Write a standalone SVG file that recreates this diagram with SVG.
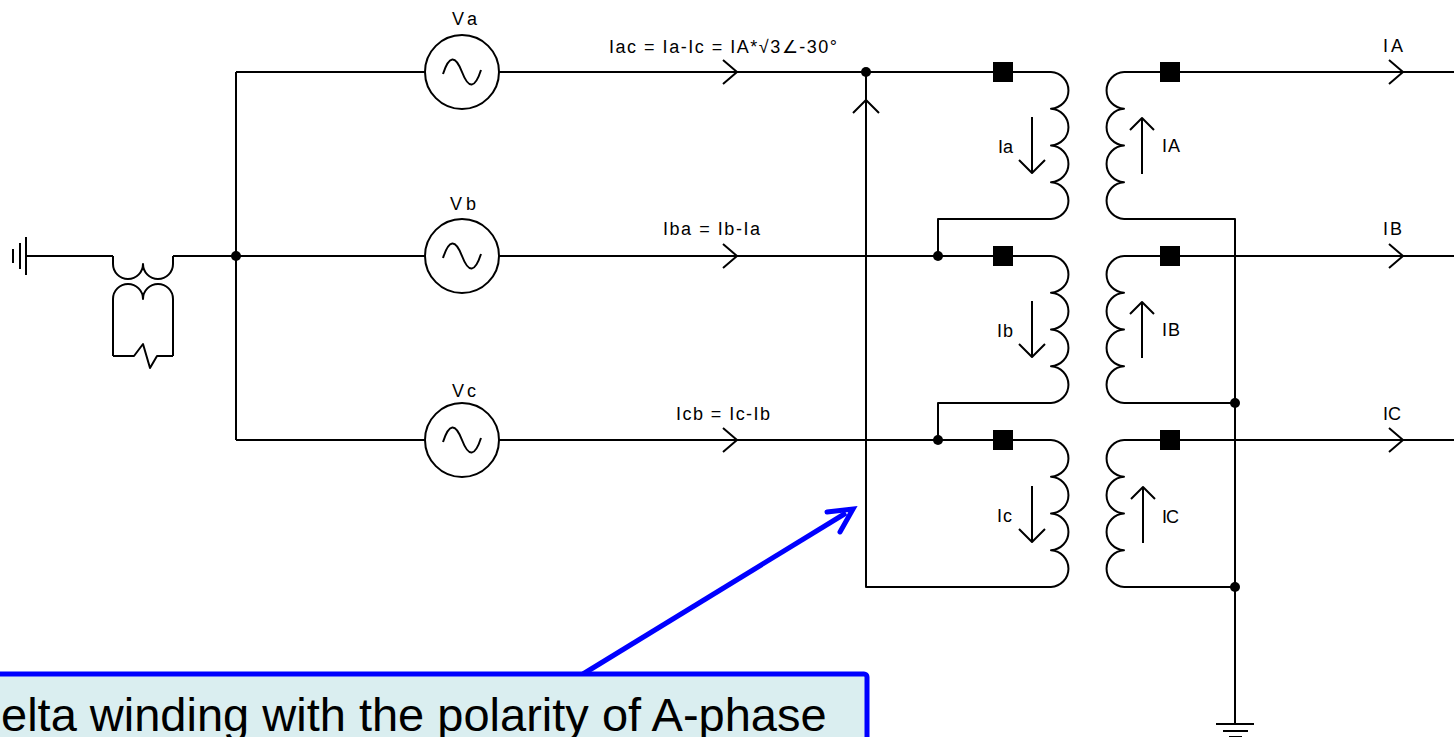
<svg xmlns="http://www.w3.org/2000/svg" width="1454" height="737" viewBox="0 0 1454 737">
<style>
.w{fill:none;stroke:#000;stroke-width:2;stroke-linejoin:round;stroke-linecap:butt}
.dot{fill:#000}
.sq{fill:#000}
.t{font-family:"Liberation Sans",Arial,sans-serif;font-size:18px;fill:#000}
.src{fill:#fff;stroke:#000;stroke-width:2}
</style>
<defs>
<marker id="blueHead" markerWidth="8" markerHeight="8" refX="6" refY="4" orient="auto" markerUnits="userSpaceOnUse" viewBox="0 0 8 8" overflow="visible">
<path d="M-22,-9 L6,4 L-14,18" fill="none" stroke="#0000FF" stroke-width="5" stroke-linecap="round" stroke-linejoin="miter" transform="scale(1)"/>
</marker>
</defs>
<rect width="1454" height="737" fill="#fff"/>

<g id="connectors" class="w">
<!-- left side -->
<path d="M26,256 H113"/>
<path d="M173,256 H236"/>
<path d="M236,72 V440"/>
<path d="M236,72 H425 M236,256 H425 M236,440 H425"/>
<!-- source to transformer -->
<path d="M499,72 H1051"/>
<path d="M499,256 H1051"/>
<path d="M499,440 H1051"/>
<!-- delta connections -->
<path d="M866,72 V587 H1051"/>
<path d="M1051,219 H938 V256"/>
<path d="M1051,403 H938 V440"/>
<!-- secondary -->
<path d="M1124,72 H1454 M1124,256 H1454 M1124,440 H1454"/>
<path d="M1124,219 H1235 V724"/>
<path d="M1124,403 H1235 M1124,587 H1235"/>
<!-- chevrons -->
<path d="M723,60 L737,72 L723,84"/>
<path d="M723,244 L737,256 L723,268"/>
<path d="M723,428 L737,440 L723,452"/>
<path d="M1389,60 L1403,72 L1389,84"/>
<path d="M1389,244 L1403,256 L1389,268"/>
<path d="M1389,428 L1403,440 L1389,452"/>
<path d="M853,113 L866,100 L879,113"/>
<!-- dots -->
<g stroke="none">
<circle class="dot" cx="236" cy="256" r="5"/>
<circle class="dot" cx="866" cy="72" r="5"/>
<circle class="dot" cx="938" cy="256" r="5"/>
<circle class="dot" cx="938" cy="440" r="5"/>
<circle class="dot" cx="1235" cy="403" r="5"/>
<circle class="dot" cx="1235" cy="587" r="5"/>
</g>
</g>

<g id="ground-left" class="w">
<path d="M13,249 V263 M20,243 V269 M26,237 V275"/>
</g>

<g id="grounding-transformer" class="w">
<path d="M113,256 V264 A15,15 0 0 0 143,264 A15,15 0 0 0 173,264 V256"/>
<path d="M113,356 V299 A15,15 0 0 1 143,299 A15,15 0 0 1 173,299 V356"/>
<path d="M113,356 H134 L143,344 L150,368 L157,356 H173"/>
</g>

<g id="source-a">
<circle class="src" cx="462" cy="72" r="37"/>
<path class="w" d="M443,74 Q452,46 462,72 Q472,98 481,70"/>
<text class="t" x="452" y="25" textLength="25" lengthAdjust="spacing">Va</text>
</g>
<g id="source-b">
<circle class="src" cx="462" cy="256" r="37"/>
<path class="w" d="M443,258 Q452,230 462,256 Q472,282 481,254"/>
<text class="t" x="450" y="210" textLength="26" lengthAdjust="spacing">Vb</text>
</g>
<g id="source-c">
<circle class="src" cx="462" cy="440" r="37"/>
<path class="w" d="M443,442 Q452,414 462,440 Q472,466 481,438"/>
<text class="t" x="452" y="397" textLength="24" lengthAdjust="spacing">Vc</text>
</g>

<g id="line-labels">
<text class="t" x="609" y="53" textLength="228" lengthAdjust="spacing">Iac = Ia-Ic = IA*√3∠-30°</text>
<text class="t" x="663" y="235" textLength="97" lengthAdjust="spacing">Iba = Ib-Ia</text>
<text class="t" x="676" y="420" textLength="94" lengthAdjust="spacing">Icb = Ic-Ib</text>
<text class="t" x="1383" y="52" textLength="20" lengthAdjust="spacing">IA</text>
<text class="t" x="1383" y="235" textLength="19" lengthAdjust="spacing">IB</text>
<text class="t" x="1383" y="420" textLength="18" lengthAdjust="spacing">IC</text>
</g>

<g id="primary-a">
<path class="w" d="M1051,72 a18.4,18.4 0 0 1 0,36.75 a18.4,18.4 0 0 1 0,36.75 a18.4,18.4 0 0 1 0,36.75 a18.4,18.4 0 0 1 0,36.75"/>
<rect class="sq" x="993" y="62" width="20" height="20"/>
<path class="w" d="M1032,117 V173 M1019,160 L1032,173 L1045,160"/>
<text class="t" x="998" y="153" textLength="15" lengthAdjust="spacing">Ia</text>
</g>
<g id="primary-b">
<path class="w" d="M1051,256 a18.4,18.4 0 0 1 0,36.75 a18.4,18.4 0 0 1 0,36.75 a18.4,18.4 0 0 1 0,36.75 a18.4,18.4 0 0 1 0,36.75"/>
<rect class="sq" x="993" y="246" width="20" height="20"/>
<path class="w" d="M1032,301 V357 M1019,344 L1032,357 L1045,344"/>
<text class="t" x="997" y="337" textLength="16" lengthAdjust="spacing">Ib</text>
</g>
<g id="primary-c">
<path class="w" d="M1051,440 a18.4,18.4 0 0 1 0,36.75 a18.4,18.4 0 0 1 0,36.75 a18.4,18.4 0 0 1 0,36.75 a18.4,18.4 0 0 1 0,36.75"/>
<rect class="sq" x="993" y="430" width="20" height="20"/>
<path class="w" d="M1032,486 V542 M1019,529 L1032,542 L1045,529"/>
<text class="t" x="997" y="522" textLength="15" lengthAdjust="spacing">Ic</text>
</g>

<g id="secondary-a">
<path class="w" d="M1124,72 a18.4,18.4 0 0 0 0,36.75 a18.4,18.4 0 0 0 0,36.75 a18.4,18.4 0 0 0 0,36.75 a18.4,18.4 0 0 0 0,36.75"/>
<rect class="sq" x="1160" y="62" width="20" height="20"/>
<path class="w" d="M1142,174 V118 M1130,130 L1142,118 L1154,130"/>
<text class="t" x="1162" y="152" textLength="18" lengthAdjust="spacing">IA</text>
</g>
<g id="secondary-b">
<path class="w" d="M1124,256 a18.4,18.4 0 0 0 0,36.75 a18.4,18.4 0 0 0 0,36.75 a18.4,18.4 0 0 0 0,36.75 a18.4,18.4 0 0 0 0,36.75"/>
<rect class="sq" x="1160" y="246" width="20" height="20"/>
<path class="w" d="M1142,358 V302 M1130,314 L1142,302 L1154,314"/>
<text class="t" x="1162" y="336" textLength="18" lengthAdjust="spacing">IB</text>
</g>
<g id="secondary-c">
<path class="w" d="M1124,440 a18.4,18.4 0 0 0 0,36.75 a18.4,18.4 0 0 0 0,36.75 a18.4,18.4 0 0 0 0,36.75 a18.4,18.4 0 0 0 0,36.75"/>
<rect class="sq" x="1160" y="430" width="20" height="20"/>
<path class="w" d="M1143,543 V487 M1131,499 L1143,487 L1155,499"/>
<text class="t" x="1162" y="523" textLength="17" lengthAdjust="spacing">IC</text>
</g>

<g id="ground-right" class="w">
<path d="M1216,724 H1254 M1223,731 H1248 M1229,737 H1242"/>
</g>

<g id="callout">
<path d="M583,674 L846,513" fill="none" stroke="#0000FF" stroke-width="5"/>
<path d="M827,512 L853,509 L840,532" fill="none" stroke="#0000FF" stroke-width="5" stroke-linecap="round" stroke-linejoin="miter"/>
<rect x="-10" y="674" width="877" height="80" rx="3" fill="#DAEEF0" stroke="#0000FF" stroke-width="5"/>
<text x="1" y="731" font-family="'Liberation Sans',Arial,sans-serif" font-size="47" fill="#000">elta winding with the polarity of A-phase</text>
</g>
</svg>
